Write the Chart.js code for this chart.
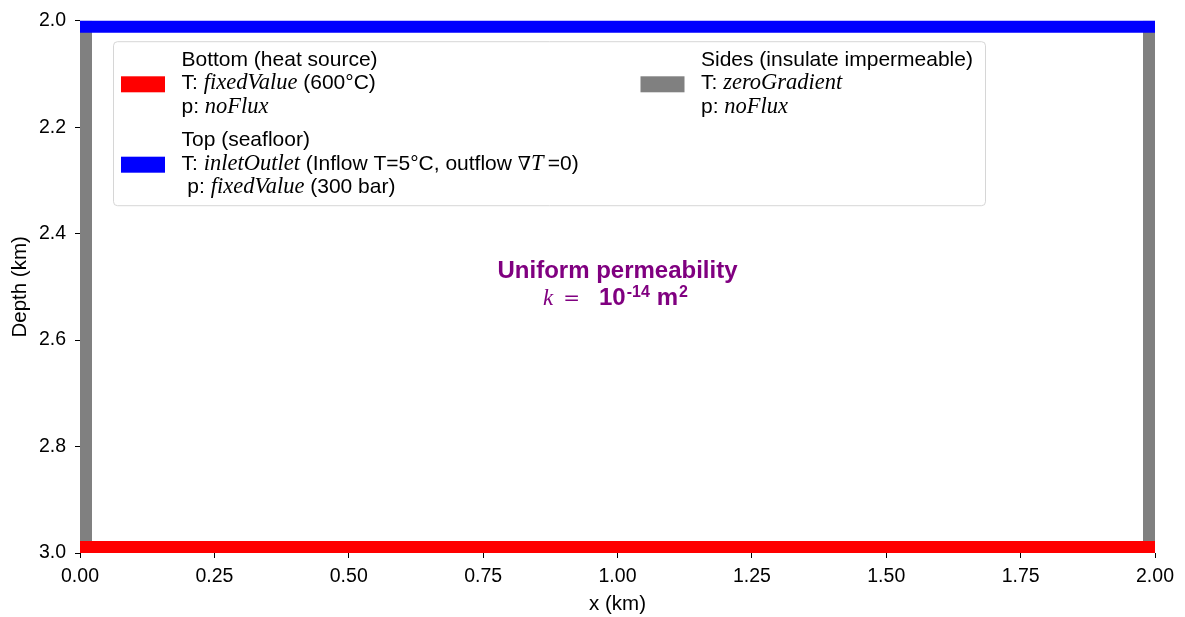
<!DOCTYPE html>
<html>
<head>
<meta charset="utf-8">
<script src="https://cdn.jsdelivr.net/npm/chart.js@4.4.0/dist/chart.umd.min.js"></script>
<style>
  html, body { margin: 0; padding: 0; background: #fff; }
  canvas { display: block; }
</style>
</head>
<body>
<canvas id="chart" width="1185" height="617"></canvas>
<script>
// model domain (km)
const xRange = [0, 2]
const depthRange = [2, 3]

// boundary edges: x positions and depths of each segment
const topX = [0, 2]
const topDepth = [2, 2]
const bottomX = [0, 2]
const bottomDepth = [3, 3]
const leftX = [0, 0]
const rightX = [2, 2]
const sideDepth = [2, 3]

const xTicks = [0, 0.25, 0.5, 0.75, 1, 1.25, 1.5, 1.75, 2]
const depthTicks = [2.0, 2.2, 2.4, 2.6, 2.8, 3.0]

// legend text, one list of [text, font] runs per line
const bottomLabel = [
  [['Bottom (heat source)', 'sans']],
  [['T: ', 'sans'], ['fixedValue', 'math'], [' (600°C)', 'sans']],
  [['p: ', 'sans'], ['noFlux', 'math']]
]
const topLabel = [
  [['Top (seafloor)', 'sans']],
  [['T: ', 'sans'], ['inletOutlet', 'math'], [' (Inflow T=5°C, outflow ', 'sans'], ['∇', 'up'], ['T', 'math'], ['\u2009=0)', 'sans']],
  [[' p: ', 'sans'], ['fixedValue', 'math'], [' (300 bar)', 'sans']]
]
const sidesLabel = [
  [['Sides (insulate impermeable)', 'sans']],
  [['T: ', 'sans'], ['zeroGradient', 'math']],
  [['p: ', 'sans'], ['noFlux', 'math']]
]

// permeability note, placed at the middle of the domain
const noteX = 1.0
const noteDepth = 2.5
const noteTitle = 'Uniform permeability'
const noteExponent = '-14'

const red = '#ff0000'
const blue = '#0000ff'
const grey = '#808080'
const purple = '#800080'

const legendFonts = {
  sans: '21px "Liberation Sans", Arial, sans-serif',
  math: 'italic 22.5px "Liberation Serif", "Times New Roman", serif',
  up: '19px "DejaVu Serif", serif'
}

Chart.defaults.font.family = '"Liberation Sans", Arial, sans-serif'
Chart.defaults.color = '#000'

const toPoints = (xs, ds) => xs.map((x, i) => ({ x: x, y: ds[i] }))

const edge = { showLine: true, pointRadius: 0, borderWidth: 24, fill: false, clip: 0 }

function drawRuns(ctx, runs, x, y) {
  runs.forEach(([txt, f]) => {
    ctx.font = legendFonts[f]
    ctx.fillText(txt, x, y)
    x += ctx.measureText(txt).width
  })
}

const boundaryLegend = {
  id: 'boundaryLegend',
  afterDraw(chart) {
    const { ctx, chartArea } = chart
    const bx = chartArea.left + 33.5, by = chartArea.top + 21
    ctx.save()
    ctx.fillStyle = 'rgba(255,255,255,0.8)'
    ctx.strokeStyle = 'rgba(204,204,204,0.8)'
    ctx.lineWidth = 1
    ctx.beginPath()
    ctx.roundRect(bx, by, 872, 164, 4)
    ctx.fill()
    ctx.stroke()

    ctx.fillStyle = '#000'
    ctx.textBaseline = 'alphabetic'
    ctx.textAlign = 'left'
    const lineH = 23.3
    const entries = [
      { label: bottomLabel, color: red, hx: bx + 7.5, tx: bx + 68, base: by + 24.3 },
      { label: topLabel, color: blue, hx: bx + 7.5, tx: bx + 68, base: by + 104.7 },
      { label: sidesLabel, color: grey, hx: bx + 527, tx: bx + 587.5, base: by + 24.3 }
    ]
    entries.forEach(e => {
      const mid = e.base + lineH
      ctx.fillStyle = e.color
      ctx.fillRect(e.hx, mid - 13, 44, 16)
      ctx.fillStyle = '#000'
      e.label.forEach((runs, i) => drawRuns(ctx, runs, e.tx, e.base + i * lineH))
    })

    // permeability note
    const cx = chart.scales.x.getPixelForValue(noteX)
    const cy = chart.scales.y.getPixelForValue(noteDepth)
    ctx.fillStyle = purple
    ctx.textAlign = 'center'
    ctx.font = 'bold 24px "Liberation Sans", Arial, sans-serif'
    ctx.fillText(noteTitle, cx, cy - 9)

    // k = 10^-14 m^2 : [text, font, raise, gap after]
    ctx.textAlign = 'left'
    const parts = [
      ['k', 'italic 23px "Liberation Serif", serif', 0, 10],
      ['=', '20px "DejaVu Serif", serif', 0, 19],
      ['10', 'bold 24px "Liberation Sans", Arial, sans-serif', 0, 1],
      [noteExponent, 'bold 16px "Liberation Sans", Arial, sans-serif', 8, 7],
      ['m', 'bold 24px "Liberation Sans", Arial, sans-serif', 0, 1],
      ['2', 'bold 16px "Liberation Sans", Arial, sans-serif', 8, 0]
    ]
    let total = 0
    parts.forEach(p => { ctx.font = p[1]; total += ctx.measureText(p[0]).width + p[3] })
    let x = cx - 2 - total / 2
    const base = cy + 18.5
    parts.forEach(p => {
      ctx.font = p[1]
      ctx.fillText(p[0], x, base - p[2])
      x += ctx.measureText(p[0]).width + p[3]
    })
    ctx.restore()
  }
}

const ctx = document.getElementById('chart').getContext('2d')

const config = {
  type: 'scatter',
  data: {
    datasets: [
      Object.assign({ label: 'Top', data: toPoints(topX, topDepth), borderColor: blue }, edge),
      Object.assign({ label: 'Bottom', data: toPoints(bottomX, bottomDepth), borderColor: red }, edge),
      Object.assign({ label: 'Sides', data: toPoints(leftX, sideDepth), borderColor: grey }, edge),
      Object.assign({ label: 'Sides', data: toPoints(rightX, sideDepth), borderColor: grey }, edge)
    ]
  },
  options: {
    responsive: false,
    animation: false,
    devicePixelRatio: 1,
    layout: { padding: { top: 18, right: 30, left: 0, bottom: 0 } },
    plugins: { legend: { display: false }, tooltip: { enabled: false } },
    scales: {
      x: {
        type: 'linear',
        min: xRange[0],
        max: xRange[1],
        afterBuildTicks: s => { s.ticks = xTicks.map(v => ({ value: v })) },
        ticks: { callback: v => v.toFixed(2), font: { size: 19.5 }, color: '#000', padding: 7, maxRotation: 0, autoSkip: false },
        grid: { drawOnChartArea: false, drawTicks: true, tickLength: 5, color: '#000', lineWidth: 1 },
        border: { display: false },
        title: { display: true, text: 'x (km)', font: { size: 20.5 }, color: '#000', padding: { top: 0, bottom: 0 } },
        afterFit: s => { s.height = 64 }
      },
      y: {
        type: 'linear',
        min: depthRange[0],
        max: depthRange[1],
        reverse: true,
        afterBuildTicks: s => { s.ticks = depthTicks.map(v => ({ value: v })) },
        ticks: { callback: v => v.toFixed(1), font: { size: 19.5 }, color: '#000', padding: 9, autoSkip: false },
        grid: { drawOnChartArea: false, drawTicks: true, tickLength: 5, color: '#000', lineWidth: 1 },
        border: { display: false },
        title: { display: true, text: 'Depth (km)', font: { size: 20.5 }, color: '#000', padding: { top: 8, bottom: 0 } },
        afterFit: s => { s.width = 80 }
      }
    }
  },
  plugins: [boundaryLegend]
}

const myChart = new Chart(ctx, config)
</script>
</body>
</html>
